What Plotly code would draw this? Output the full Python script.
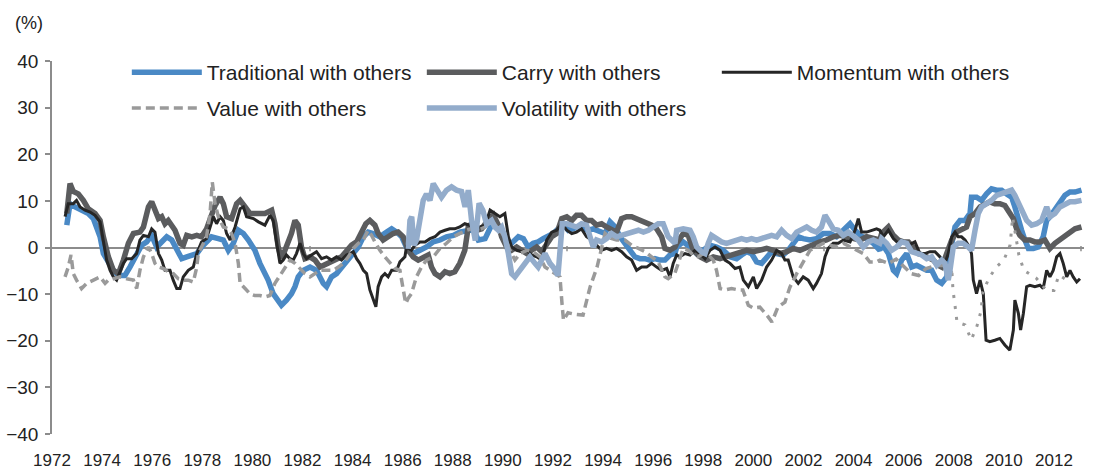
import plotly.graph_objects as go

# ---------------- data (%) ----------------
trad_years = [1972.59, 1972.72, 1972.92, 1973.18, 1973.45, 1973.65, 1973.78, 1973.92, 1974.05, 1974.25, 1974.45, 1974.65, 1974.91, 1975.11, 1975.38, 1975.58, 1975.78, 1975.98, 1976.18, 1976.38, 1976.58, 1976.78, 1976.98, 1977.18, 1977.38, 1977.58, 1977.78, 1977.97, 1978.17, 1978.37, 1978.64, 1978.84, 1979.04, 1979.24, 1979.44, 1979.64, 1979.84, 1980.10, 1980.30, 1980.50,
              1980.63, 1980.83, 1981.03, 1981.16, 1981.36, 1981.56, 1981.70, 1981.83, 1982.03, 1982.30, 1982.56, 1982.83, 1982.96, 1983.16, 1983.36, 1983.56, 1983.83, 1984.03, 1984.23, 1984.43, 1984.62, 1984.82, 1985.09, 1985.36, 1985.56, 1985.76, 1985.96, 1986.15, 1986.42, 1986.69, 1986.95, 1987.22, 1987.49, 1987.75, 1988.02, 1988.28, 1988.68,
              1988.75, 1989.02, 1989.29, 1989.55, 1989.82, 1990.08, 1990.35, 1990.62, 1990.82, 1991.01, 1991.21, 1991.41, 1991.61, 1991.81, 1992.01, 1992.21, 1992.41, 1992.61, 1992.81, 1993.01, 1993.21, 1993.41, 1993.61, 1993.81, 1994.08, 1994.28, 1994.48, 1994.68, 1994.87, 1995.07, 1995.27, 1995.47, 1995.67, 1995.87, 1996.07, 1996.27, 1996.47, 1996.67, 1996.87,
              1996.94, 1997.20, 1997.47, 1997.74, 1998.00, 1998.27, 1998.53, 1998.80, 1999.07, 1999.33, 1999.53, 1999.73, 1999.93, 2000.13, 2000.33, 2000.53, 2000.73, 2000.93, 2001.19, 2001.39, 2001.59, 2001.79, 2001.99, 2002.26, 2002.52, 2002.79, 2003.06, 2003.32, 2003.59, 2003.86, 2004.06, 2004.26, 2004.52, 2004.79, 2005.05,
              2005.12, 2005.39, 2005.59, 2005.72, 2005.92, 2006.12, 2006.32, 2006.52, 2006.72, 2006.92, 2007.12, 2007.32, 2007.52, 2007.72, 2007.85, 2008.05, 2008.25, 2008.45, 2008.65, 2008.71, 2008.91, 2009.11, 2009.31, 2009.51, 2009.71, 2009.91, 2010.11, 2010.31, 2010.44, 2010.58, 2010.71, 2010.84, 2010.98, 2011.18, 2011.37, 2011.57, 2011.71, 2011.84, 2012.04, 2012.24, 2012.44, 2012.64, 2012.84, 2013.10]
trad_vals = [4.8, 9.4, 8.7, 8.0, 7.3, 6.2, 4.4, 2.3, -1.3, -3.4, -4.9, -6.0, -6.0, -4.2, -1.3, 0.5, 1.2, 2.6, 0.1, 1.2, 2.3, 1.6, -0.6, -2.4, -2.0, -1.6, -1.3, 0.1, 1.2, 2.3, 1.9, 1.6, -0.6, 0.9, 3.7, 3.0, 1.6, -0.6, -3.4, -5.6,
             -7.0, -9.9, -11.6, -12.4, -11.3, -9.9, -8.4, -6.3, -4.9, -4.2, -4.9, -7.7, -8.4, -6.3, -5.6, -4.2, -2.7, -1.3, 0.1, 2.3, 3.3, 3.0, 2.3, 3.3, 4.0, 3.3, 2.3, 0.1, -1.3, -0.6, 0.1, 1.2, 1.6, 2.3, 2.6, 3.3, 3.7,
             4.8, 1.6, 1.9, 4.8, 4.4, 1.6, 0.9, 2.3, 1.9, 0.1, 0.9, 1.2, 1.9, 2.3, 3.0, 4.0, 5.1, 3.7, 4.0, 4.4, 4.0, 3.7, 4.0, 3.7, 3.0, 5.5, 4.4, 2.3, 0.9, -0.6, -2.0, -2.4, -2.4, -2.7, -2.4, -2.7, -2.7, -1.6, -1.3,
             0.1, 1.2, 0.1, -1.3, -0.6, 0.5, 0.1, -0.6, -2.0, -2.4, -1.6, -0.9, -1.3, -3.1, -3.4, -2.0, -0.9, -1.3, -1.6, -0.6, 0.9, 2.3, 1.9, 1.6, 1.9, 3.0, 3.0, 2.3, 3.7, 5.1, 3.7, 2.6, 1.9, 0.9, -0.6,
             0.9, -1.3, -4.9, -5.6, -2.7, -1.3, -4.2, -3.8, -4.2, -4.9, -4.9, -7.0, -7.7, -6.3, -1.3, 4.4, 5.8, 5.8, 7.3, 10.8, 10.8, 10.1, 11.5, 12.6, 12.3, 12.3, 11.5, 10.8, 8.7, 5.8, 3.7, 1.6, -0.2, -0.2, 0.1, 2.3, 5.8, 6.6, 8.0, 9.4, 11.2, 11.9, 11.9, 12.3]

carry_years = [1972.59, 1972.72, 1972.85, 1973.05, 1973.25, 1973.45, 1973.72, 1973.92, 1974.05, 1974.25, 1974.45, 1974.65, 1974.85, 1975.05, 1975.25, 1975.51, 1975.65, 1975.85, 1975.98, 1976.11, 1976.25, 1976.38, 1976.51, 1976.64, 1976.78, 1976.91, 1977.11, 1977.24, 1977.38, 1977.58, 1977.78, 1977.97, 1978.17, 1978.37, 1978.51, 1978.71, 1978.84, 1978.97, 1979.17, 1979.37, 1979.51, 1979.71, 1979.90, 1980.10, 1980.50,
               1980.77, 1980.90, 1981.03, 1981.16, 1981.30, 1981.43, 1981.56, 1981.70, 1981.83, 1981.96, 1982.10, 1982.30, 1982.50, 1982.70, 1982.89, 1983.09, 1983.29, 1983.56, 1983.76, 1983.96, 1984.16, 1984.36, 1984.53, 1984.69, 1984.89, 1985.02, 1985.22, 1985.42, 1985.62, 1985.82, 1986.02, 1986.22, 1986.42, 1986.62, 1986.82, 1987.02, 1987.15, 1987.29, 1987.49, 1987.69, 1987.88, 1988.08, 1988.28, 1988.48,
               1988.62, 1988.75, 1988.95, 1989.15, 1989.42, 1989.62, 1989.82, 1989.95, 1990.15, 1990.35, 1990.55, 1990.75, 1990.95, 1991.15, 1991.35, 1991.55, 1991.75, 1991.95, 1992.15, 1992.35, 1992.55, 1992.75, 1992.94, 1993.14, 1993.34, 1993.54, 1993.74, 1993.94, 1994.14, 1994.34, 1994.54, 1994.74, 1994.94, 1995.14, 1995.34, 1995.54, 1995.74, 1995.94, 1996.14, 1996.34, 1996.47, 1996.67, 1996.87,
               1996.94, 1997.20, 1997.40, 1997.60, 1997.87, 1998.13, 1998.40, 1998.67, 1998.93, 1999.20, 1999.46, 1999.73, 2000.00, 2000.26, 2000.53, 2000.80, 2001.06, 2001.33, 2001.59, 2001.86, 2002.13, 2002.39, 2002.66, 2002.92, 2003.19, 2003.46, 2003.72, 2003.99, 2004.26, 2004.52, 2004.79, 2005.05,
               2005.12, 2005.39, 2005.59, 2005.79, 2005.99, 2006.19, 2006.38, 2006.58, 2006.78, 2006.98, 2007.18, 2007.38, 2007.52, 2007.72, 2007.92, 2008.11, 2008.31, 2008.51, 2008.65, 2008.85, 2009.05, 2009.25, 2009.44, 2009.64, 2009.84, 2010.04, 2010.24, 2010.38, 2010.51, 2010.64, 2010.84, 2011.04, 2011.24, 2011.44, 2011.64, 2011.84, 2012.04, 2012.24, 2012.44, 2012.64, 2012.84, 2013.10]
carry_vals = [7.3, 13.7, 12.0, 11.5, 10.1, 8.3, 7.3, 5.8, 2.3, -2.0, -4.9, -5.6, -2.7, 0.9, 3.0, 3.3, 4.4, 8.7, 9.8, 8.0, 6.2, 6.6, 5.1, 5.8, 4.8, 3.7, 0.9, 0.5, 2.6, 2.3, 2.6, 2.3, 4.0, 6.6, 9.0, 10.8, 9.4, 6.6, 6.2, 9.4, 10.1, 8.7, 7.3, 7.3, 7.3,
              8.0, 5.1, 0.1, -2.4, -0.6, 0.9, 3.0, 5.8, 4.8, 0.1, -2.4, -2.0, -2.7, -4.2, -3.8, -3.1, -2.7, -2.0, -0.6, 0.5, 1.2, 3.0, 5.1, 5.8, 4.8, 3.0, 1.6, 2.3, 3.0, 3.3, 2.3, -0.6, -2.0, -2.7, -2.0, -1.6, -4.2, -5.6, -6.3, -5.2, -5.6, -5.2, -3.4, -0.6,
              4.5, 5.1, 3.7, 4.0, 6.0, 7.0, 4.8, 2.3, 0.1, -0.6, 0.1, -0.6, -1.3, -0.6, 0.1, -0.9, 0.5, 2.3, 3.0, 6.2, 6.6, 5.8, 6.9, 6.9, 5.8, 5.8, 4.8, 5.1, 4.4, 4.0, 3.3, 6.2, 6.6, 6.6, 6.2, 5.5, 5.1, 4.8, 4.0, 2.3, -0.2, -0.6, 0.1,
              0.9, 3.0, 2.6, -0.6, -2.0, -2.7, -2.0, -2.4, -2.0, -1.6, -1.3, -0.6, -0.9, -0.6, -0.2, -0.6, -1.3, -0.9, -0.2, -0.6, 0.1, 0.5, 1.2, 1.6, 2.3, 2.6, 2.3, 1.9, 1.6, 2.3, 1.9, 1.6,
              3.0, 4.4, 2.6, 1.6, 1.2, 1.2, 0.1, -1.3, -1.6, -2.0, -2.7, -3.8, -4.2, -1.3, 1.6, 3.3, 4.0, 4.4, 6.6, 7.3, 8.7, 9.4, 9.8, 9.4, 9.4, 9.0, 7.6, 6.2, 4.0, 2.6, 1.6, 1.6, 1.2, 1.2, 1.6, -0.2, 0.9, 1.6, 2.3, 3.3, 4.0, 4.4]

mom_years = [1972.52, 1972.65, 1972.85, 1972.98, 1973.12, 1973.32, 1973.52, 1973.72, 1973.92, 1974.05, 1974.18, 1974.32, 1974.45, 1974.58, 1974.71, 1974.85, 1974.98, 1975.18, 1975.38, 1975.51, 1975.65, 1975.85, 1975.98, 1976.11, 1976.25, 1976.38, 1976.51, 1976.71, 1976.84, 1976.98, 1977.11, 1977.24, 1977.44, 1977.64, 1977.78, 1977.97, 1978.17, 1978.31, 1978.44, 1978.57, 1978.71, 1978.84, 1978.97, 1979.11, 1979.31, 1979.51, 1979.64, 1979.77, 1980.04, 1980.24, 1980.50,
             1980.70, 1980.83, 1980.97, 1981.10, 1981.23, 1981.36, 1981.50, 1981.63, 1981.76, 1981.90, 1982.03, 1982.16, 1982.36, 1982.56, 1982.76, 1982.96, 1983.16, 1983.36, 1983.56, 1983.76, 1983.89, 1984.03, 1984.16, 1984.29, 1984.43, 1984.56, 1984.69, 1984.82, 1984.93, 1985.02, 1985.16, 1985.29, 1985.42, 1985.56, 1985.76, 1985.89, 1986.09, 1986.15, 1986.35, 1986.49, 1986.69, 1986.89, 1987.09, 1987.29, 1987.49, 1987.69, 1987.88, 1988.08, 1988.28, 1988.48, 1988.68,
             1988.89, 1989.09, 1989.29, 1989.49, 1989.68, 1989.88, 1990.08, 1990.22, 1990.35, 1990.55, 1990.75, 1990.95, 1991.15, 1991.35, 1991.55, 1991.75, 1991.95, 1992.15, 1992.35, 1992.55, 1992.75, 1992.94, 1993.14, 1993.34, 1993.54, 1993.74, 1993.94, 1994.14, 1994.34, 1994.54, 1994.74, 1994.94, 1995.14, 1995.34, 1995.54, 1995.74, 1995.94, 1996.14, 1996.34, 1996.54, 1996.67,
             1996.80, 1996.94, 1997.07, 1997.27, 1997.47, 1997.67, 1997.87, 1998.07, 1998.27, 1998.47, 1998.67, 1998.87, 1999.07, 1999.27, 1999.46, 1999.60, 1999.80, 2000.00, 2000.13, 2000.33, 2000.53, 2000.73, 2000.93, 2001.13, 2001.26, 2001.39, 2001.59, 2001.79, 2001.99, 2002.19, 2002.39, 2002.52, 2002.72, 2002.86, 2002.99, 2003.19, 2003.39, 2003.59, 2003.86, 2004.06, 2004.19, 2004.32, 2004.52, 2004.72, 2004.92, 2005.05,
             2005.19, 2005.39, 2005.59, 2005.79, 2005.99, 2006.19, 2006.45, 2006.65, 2006.85, 2007.05, 2007.25, 2007.45, 2007.65, 2007.78, 2007.92, 2008.05, 2008.18, 2008.31, 2008.45, 2008.58, 2008.71, 2008.78, 2008.91, 2009.05, 2009.18, 2009.29, 2009.44, 2009.64, 2009.84, 2010.04, 2010.24, 2010.38, 2010.44, 2010.58, 2010.67, 2010.78, 2010.91, 2011.04, 2011.24, 2011.44, 2011.57, 2011.71, 2011.84, 2011.97, 2012.11, 2012.24, 2012.37, 2012.51, 2012.64, 2012.77, 2012.91, 2013.04]
mom_vals = [6.6, 9.4, 9.4, 10.1, 8.7, 8.0, 7.6, 6.9, 5.5, 1.6, -2.7, -4.9, -6.3, -7.0, -5.2, -3.4, -2.4, -2.4, -1.3, 1.6, 2.6, 2.3, 4.0, 3.3, -1.3, -2.7, -4.9, -4.9, -7.0, -8.8, -8.8, -6.3, -4.9, -4.2, -1.3, 1.2, 1.9, 4.4, 6.6, 5.1, 6.6, 5.8, 3.0, 1.6, 4.4, 8.3, 8.7, 6.6, 6.2, 5.5, 4.8,
            6.9, 5.8, 0.9, -3.4, -2.7, -1.6, -2.4, -2.7, -1.3, 0.9, -1.3, -2.4, -1.6, -0.9, -2.4, -2.0, -2.7, -2.0, -2.7, -1.6, -1.3, -0.9, -2.4, -3.4, -4.9, -5.6, -9.1, -11.3, -12.7, -8.4, -6.3, -5.6, -6.3, -4.9, -4.9, -3.1, -2.0, 0.1, -0.6, 0.5, 1.2, 1.2, 1.9, 2.3, 3.3, 3.7, 4.0, 4.0, 4.4, 5.1, 4.8,
            4.4, 4.4, 4.8, 8.0, 7.3, 6.6, 7.3, 2.3, 0.1, -0.6, -0.9, -0.6, -1.6, -2.0, -2.7, 1.6, 3.3, 3.7, 5.1, 3.7, 3.0, 3.3, 4.0, 2.3, 1.6, 0.5, -0.6, -0.2, -0.6, -0.2, -0.9, -2.0, -2.7, -4.9, -4.2, -4.2, -3.4, -4.2, -4.9, -4.5, -6.3,
            -3.4, -1.6, -2.0, -1.3, -1.6, -0.6, -1.3, -2.4, -0.6, 0.1, -0.6, -2.7, -3.4, -4.5, -4.2, -7.0, -8.4, -6.3, -8.8, -7.0, -4.2, -2.7, -0.6, -1.3, -2.7, -2.7, -6.3, -7.7, -6.3, -7.0, -8.8, -7.7, -5.6, -2.0, -0.2, 0.9, 0.9, 1.6, 1.2, 3.7, 6.2, 3.3, 3.3, 3.7, 4.0, 3.7,
            2.3, 3.7, 1.9, 0.9, 1.2, 0.5, 1.2, -1.3, -1.3, -0.9, -0.9, -2.0, -3.4, -1.3, 2.3, 3.3, 2.3, 2.3, 1.6, 0.5, -1.3, -7.0, -9.9, -7.0, -9.9, -19.9, -20.2, -19.9, -19.5, -20.9, -22.0, -17.7, -11.3, -14.1, -17.7, -14.1, -8.4, -8.1, -8.4, -8.1, -8.8, -4.9, -6.3, -4.9, -2.0, -1.3, -3.4, -6.3, -4.9, -6.3, -7.4, -6.7]

value_years = [1972.52, 1972.65, 1972.76, 1972.85, 1972.98, 1973.18, 1973.38, 1973.65, 1973.92, 1974.12, 1974.25, 1974.45, 1974.71, 1974.98, 1975.25, 1975.38, 1975.51, 1975.65, 1975.85, 1975.98, 1976.11, 1976.25, 1976.44, 1976.64, 1976.84, 1977.04, 1977.24, 1977.44, 1977.64, 1977.78, 1977.84, 1977.97, 1978.17, 1978.31, 1978.40, 1978.51, 1978.64, 1978.84, 1979.04, 1979.17, 1979.31, 1979.44, 1979.51, 1979.71, 1979.90, 1980.10, 1980.30, 1980.50,
               1980.70, 1980.90, 1981.10, 1981.30, 1981.50, 1981.70, 1981.90, 1982.10, 1982.30, 1982.50, 1982.70, 1982.96, 1983.23, 1983.43, 1983.63, 1983.83, 1984.03, 1984.23, 1984.43, 1984.62, 1984.76, 1984.89, 1985.09, 1985.29, 1985.49, 1985.69, 1985.89, 1986.02, 1986.12, 1986.22, 1986.35, 1986.55, 1986.75, 1986.95, 1987.22, 1987.49, 1987.75, 1988.02, 1988.28, 1988.55,
               1988.75, 1989.02, 1989.29, 1989.55, 1989.82, 1990.08, 1990.28, 1990.48, 1990.68, 1990.95, 1991.21, 1991.48, 1991.68, 1991.88, 1992.08, 1992.28, 1992.36, 1992.42, 1992.60, 1992.85, 1993.20, 1993.48, 1993.76, 1993.88, 1994.08, 1994.30, 1994.54, 1994.87, 1995.14, 1995.41, 1995.67, 1995.94, 1996.20, 1996.47, 1996.60, 1996.87,
               1997.07, 1997.20, 1997.40, 1997.60, 1997.80, 1998.00, 1998.20, 1998.40, 1998.53, 1998.67, 1998.87, 1999.13, 1999.40, 1999.58, 1999.80, 2000.00, 2000.26, 2000.54, 2000.74, 2000.98, 2001.26, 2001.46, 2001.74, 2001.99, 2002.26, 2002.52, 2002.79, 2003.06, 2003.32, 2003.59, 2003.86, 2004.12, 2004.39, 2004.65, 2004.92, 2005.05,
               2005.40, 2005.70, 2006.00, 2006.30, 2006.60, 2006.90, 2007.20, 2007.57, 2007.80, 2007.93,
               2007.97, 2008.05, 2008.13, 2008.45, 2008.70, 2008.93, 2009.10, 2009.15, 2009.40, 2009.70, 2010.00, 2010.25, 2010.30, 2010.35, 2010.60, 2010.80, 2011.30, 2011.70, 2012.00, 2012.20, 2012.70]
value_vals = [-6.3, -4.2, -1.6, -5.6, -7.0, -8.8, -7.7, -7.0, -6.3, -7.7, -7.0, -6.7, -6.3, -6.7, -7.0, -8.8, -4.9, -2.0, 0.1, -1.3, -3.4, -4.2, -4.5, -5.2, -5.6, -6.7, -7.0, -7.0, -7.4, -4.2, -1.3, 0.1, 2.3, 7.3, 14.0, 9.4, 6.6, 4.4, 4.0, 3.0, 0.9, -3.4, -7.7, -8.8, -9.9, -10.3, -10.3, -10.6,
              -10.3, -7.7, -6.0, -4.2, -2.7, -3.4, -4.5, -5.6, -6.3, -5.6, -4.9, -4.9, -4.9, -4.2, -3.4, -2.0, -0.2, 0.9, 1.6, 3.7, 2.6, 1.2, -0.6, -2.0, -3.4, -4.5, -4.9, -8.4, -12.0, -10.9, -9.9, -6.3, -4.2, -2.7, -2.0, -0.2, 0.9, 2.3, 3.0, 3.7,
              4.0, 3.7, 4.4, 5.8, 4.0, 2.3, -0.6, -2.7, -1.3, -0.6, -0.9, -2.0, -4.2, -4.9, -5.6, -6.3, -12.0, -15.6, -14.0, -14.3, -14.5, -8.5, -4.2, -1.3, 3.0, 2.0, 1.6, 1.6, 0.5, -0.2, -0.9, -2.0, -3.1, -6.3, -6.7, -5.5,
              -2.5, -0.2, -0.6, -1.6, -2.0, -1.3, -1.6, -2.7, -4.9, -8.8, -9.1, -8.8, -9.1, -9.1, -12.4, -13.0, -12.8, -14.5, -16.0, -12.8, -11.7, -8.5, -5.5, -3.0, -0.6, 0.1, 0.9, 0.5, 0.1, 0.9, 0.1, -0.6, -1.3, -3.1, -3.1, -2.7,
              -3.4, -2.5, -4.0, -5.6, -6.0, -4.5, -4.0, -3.8, -4.5, -5.5,
              -9.2, -12.4, -16.0, -16.6, -19.8, -16.8, -13.4, -9.8, -6.6, -4.2, -2.7, 0.5, 4.1, 6.5, -1.6, -4.9, -6.6, -9.2, -9.2, -5.9, -7.6]
value_dotted_from = 2007.93   # the series is drawn dotted from here on

vol_years = [1986.22, 1986.29, 1986.36, 1986.45, 1986.55, 1986.69, 1986.82, 1986.95, 1987.09, 1987.22, 1987.35, 1987.55, 1987.75, 1987.95, 1988.15, 1988.35, 1988.49, 1988.62, 1988.75, 1988.90, 1989.05, 1989.20, 1989.35, 1989.55, 1989.68, 1989.82, 1989.95, 1990.08, 1990.22, 1990.35, 1990.48, 1990.68, 1990.88, 1991.08, 1991.28, 1991.41, 1991.55, 1991.68, 1991.88, 1992.01, 1992.20, 1992.30, 1992.37, 1992.55, 1992.75, 1992.94, 1993.14, 1993.34, 1993.48, 1993.61, 1993.74, 1993.94, 1994.14, 1994.34, 1994.54, 1994.74, 1994.94, 1995.14, 1995.41, 1995.61, 1995.81, 1996.00, 1996.20, 1996.40, 1996.60, 1996.87,
             1996.94, 1997.20, 1997.47, 1997.60, 1997.74, 1997.93, 1998.07, 1998.20, 1998.33, 1998.53, 1998.73, 1998.93, 1999.13, 1999.33, 1999.53, 1999.73, 1999.93, 2000.13, 2000.33, 2000.53, 2000.73, 2000.93, 2001.13, 2001.33, 2001.53, 2001.73, 2001.93, 2002.13, 2002.33, 2002.52, 2002.72, 2002.86, 2002.99, 2003.19, 2003.39, 2003.59, 2003.79, 2003.99, 2004.19, 2004.39, 2004.59, 2004.79, 2005.05,
             2005.12, 2005.32, 2005.52, 2005.72, 2005.92, 2006.12, 2006.32, 2006.52, 2006.72, 2006.92, 2007.12, 2007.32, 2007.52, 2007.65, 2007.78, 2007.85, 2007.98, 2008.18, 2008.38, 2008.58, 2008.71, 2008.85, 2008.98, 2009.11, 2009.31, 2009.51, 2009.71, 2009.91, 2010.11, 2010.31, 2010.44, 2010.58, 2010.71, 2010.91, 2011.11, 2011.31, 2011.51, 2011.71, 2011.84, 2012.04, 2012.24, 2012.44, 2012.64, 2012.84, 2013.10]
vol_vals = [-0.3, 5.8, 6.6, 0.5, 1.6, 5.8, 10.1, 11.5, 10.1, 13.7, 12.3, 10.8, 12.3, 13.0, 12.3, 12.0, 8.7, 12.3, 5.8, 1.5, 9.5, 8.0, 5.0, 5.8, 4.4, 3.7, 4.4, 2.3, -1.3, -5.6, -6.3, -4.9, -3.4, -2.0, -3.4, -4.2, -2.7, -1.3, -3.4, -4.2, -6.0, 0.9, 5.1, 5.1, 4.8, 4.4, 5.1, 4.8, 2.3, 0.1, 1.6, 1.2, 1.9, 3.0, 2.3, 2.6, 3.0, 3.0, 3.7, 3.3, 3.7, 4.4, 5.1, 5.1, 2.3, 0.9,
            3.7, 4.0, 3.7, 2.3, 0.1, -0.9, -1.3, 0.9, 2.6, 1.9, 1.2, 0.9, 1.2, 1.6, 1.9, 1.6, 1.9, 1.6, 1.9, 2.3, 2.6, 2.3, 3.7, 2.6, 1.9, 3.3, 4.0, 4.4, 3.7, 3.3, 4.4, 6.9, 5.8, 4.0, 3.7, 2.6, 3.3, 2.6, 1.6, 0.1, 1.2, 1.6, 0.9,
            1.9, 0.9, -0.6, 0.1, 1.2, 0.9, -0.9, -1.3, -1.6, -2.4, -2.0, -3.8, -2.7, -3.4, -7.0, -4.9, 0.1, 0.9, 0.9, 0.1, -0.6, 3.7, 7.3, 8.7, 9.4, 10.1, 11.2, 11.5, 11.9, 12.3, 11.2, 9.4, 8.0, 5.8, 4.8, 5.1, 5.8, 8.7, 6.6, 7.3, 8.7, 9.4, 9.8, 9.8, 10.1]

tick_years = list(range(1972, 2013, 2))
tick_labels = [str(y) for y in tick_years]
zero_line_tick_years = [1982.30, 1992.56, 2002.82, 2013.08]

names = ["Traditional with others", "Carry with others", "Momentum with others",
         "Value with others", "Volatility with others"]

# ---------------- styles ----------------
C_TRAD = "#4A89C5"
C_CARRY = "#5B5C5E"
C_MOM = "#262626"
C_VALUE = "#9A9A9A"
C_VOL = "#93ACCB"
FONT = "Liberation Sans, Arial, sans-serif"

split = next(i for i, y in enumerate(value_years) if y >= value_dotted_from)

fig = go.Figure()
fig.add_trace(go.Scatter(x=trad_years, y=trad_vals, name=names[0], mode="lines",
                         line=dict(color=C_TRAD, width=5.5), legend="legend"))
fig.add_trace(go.Scatter(x=carry_years, y=carry_vals, name=names[1], mode="lines",
                         line=dict(color=C_CARRY, width=5.5), legend="legend"))
fig.add_trace(go.Scatter(x=mom_years, y=mom_vals, name=names[2], mode="lines",
                         line=dict(color=C_MOM, width=3), legend="legend"))
fig.add_trace(go.Scatter(x=value_years[:split + 1], y=value_vals[:split + 1], name=names[3],
                         mode="lines", line=dict(color=C_VALUE, width=3.5, dash="9px,5px"),
                         legend="legend2"))
fig.add_trace(go.Scatter(x=value_years[split:], y=value_vals[split:], name=names[3],
                         mode="lines", line=dict(color=C_VALUE, width=3, dash="3px,8px"),
                         showlegend=False))
fig.add_trace(go.Scatter(x=vol_years, y=vol_vals, name=names[4], mode="lines",
                         line=dict(color=C_VOL, width=5.5), legend="legend2"))

for ty in zero_line_tick_years:
    fig.add_shape(type="line", xref="x", yref="y", x0=ty, x1=ty, y0=0.3, y1=-0.8,
                  line=dict(color="#8C8C8C", width=1.5), layer="below")

fig.add_annotation(text="(%)", xref="paper", yref="paper", x=-0.038, y=1.103,
                   xanchor="left", yanchor="middle", showarrow=False,
                   font=dict(family=FONT, size=18, color="#222222"))

legend_common = dict(orientation="h", xanchor="left", yanchor="middle",
                     bgcolor="rgba(0,0,0,0)", borderwidth=0,
                     font=dict(family=FONT, size=21, color="#222222"),
                     itemwidth=70, entrywidth=210, entrywidthmode="pixels",
                     traceorder="normal")

fig.update_layout(
    width=1101, height=470,
    margin=dict(l=52, r=17, t=60.5, b=35.9, autoexpand=False),
    paper_bgcolor="white", plot_bgcolor="white",
    showlegend=True,
    legend=dict(x=0.0725, y=0.969, **legend_common),
    legend2=dict(x=0.0725, y=0.873, **legend_common),
    xaxis=dict(range=[1972, 2013.2], tickvals=tick_years, ticktext=tick_labels,
               showgrid=False, zeroline=False, showline=False, ticks="",
               automargin=False, ticklabelstandoff=14,
               tickfont=dict(family=FONT, size=17, color="#222222")),
    yaxis=dict(range=[-40, 40], dtick=10, showgrid=False, automargin=False,
               zeroline=True, zerolinecolor="#8C8C8C", zerolinewidth=2,
               showline=True, linecolor="#8C8C8C", linewidth=1.5,
               ticks="outside", ticklen=5, tickcolor="#8C8C8C", tickwidth=1.5,
               ticklabelstandoff=3,
               tickfont=dict(family=FONT, size=19, color="#222222")),
)

fig.write_html("out.html", config={"displayModeBar": False},
               post_script="document.body.style.margin='0px';")
